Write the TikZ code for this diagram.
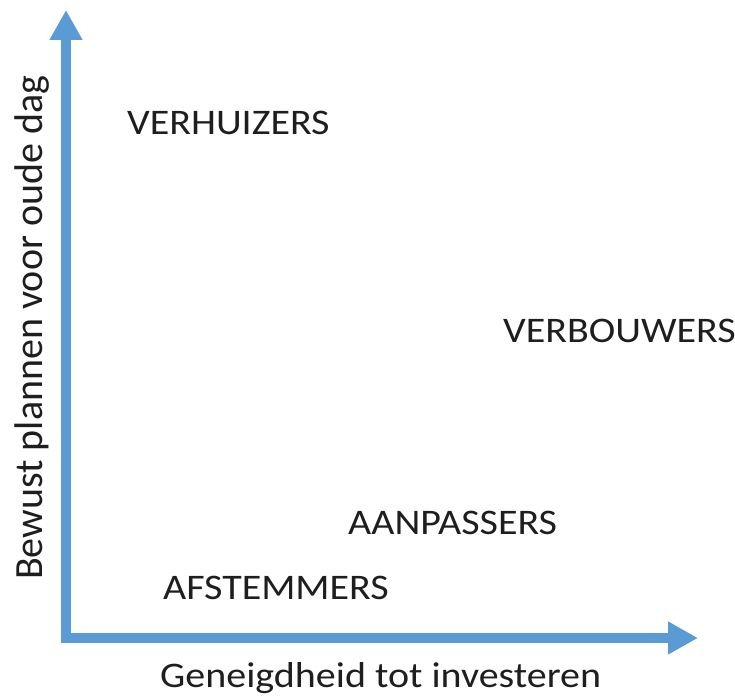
\documentclass[tikz,border=0pt]{standalone}
\usepackage{fontspec}
\setmainfont{Carlito}
\usetikzlibrary{arrows.meta}
\definecolor{axisblue}{HTML}{5B9BD5}
\definecolor{txt}{HTML}{1E1E1E}
\tikzset{
  axisline/.style={draw=axisblue, line width=10pt, line join=miter,
    {Triangle[length=30pt,width=31pt]}-{Triangle[length=30pt,width=31pt]}},
  grouplabel/.style={anchor=base west, inner sep=0pt, text=txt,
    font=\fontsize{40}{44}\selectfont},
  axislabel/.style={anchor=base west, inner sep=0pt, text=txt,
    font=\fontsize{40}{44}\selectfont}
}
\newcommand{\squash}[1]{\scalebox{1}[0.9]{#1}}
\begin{document}
\begin{tikzpicture}[x=1pt,y=1pt]
\useasboundingbox (0,0) rectangle (735,695);
\coordinate (ytip) at (66,685);
\coordinate (corner) at (66,57);
\coordinate (xtip) at (698,57);
\draw[axisline] (ytip) -- (corner) -- (xtip);
\node[grouplabel] (verhuizers) at (127,560) {\squash{VERHUIZERS}};
\node[grouplabel] (verbouwers) at (503,352) {\squash{VERBOUWERS}};
\node[grouplabel] (aanpassers) at (348,160) {\squash{AANPASSERS}};
\node[grouplabel] (afstemmers) at (163,95) {\squash{AFSTEMMERS}};
\node[axislabel] (xlabel) at (160,8) {\squash{Geneigdheid tot investeren}};
\node[axislabel, rotate=90] (ylabel) at (42,115) {Bewust plannen voor oude dag};
\end{tikzpicture}
\end{document}
